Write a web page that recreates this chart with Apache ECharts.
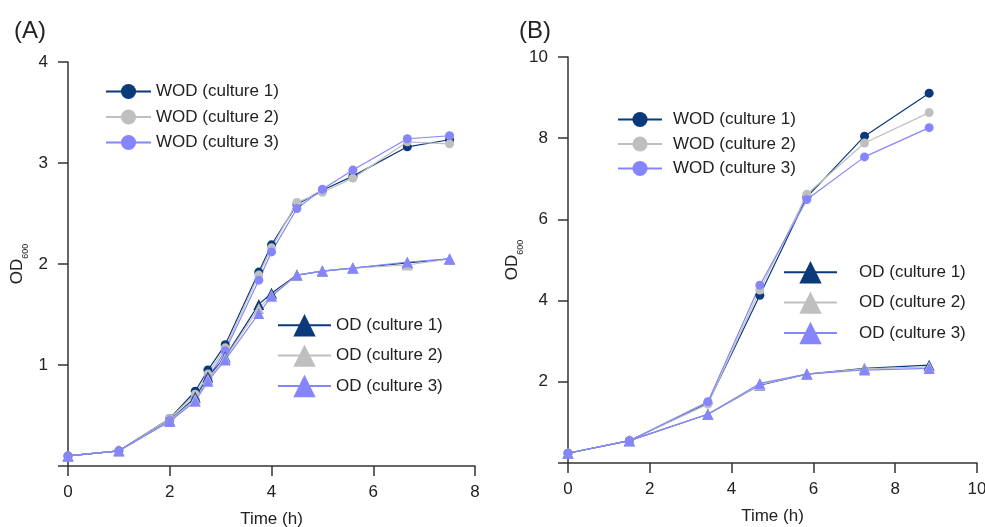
<!DOCTYPE html>
<html>
<head>
<meta charset="utf-8">
<script src="https://cdn.jsdelivr.net/npm/echarts@6/dist/echarts.min.js"></script>
<style>
  html, body { margin: 0; padding: 0; background: #fff; }
  #main { width: 985px; height: 527px; }
</style>
</head>
<body>
<div id="main"></div>
<script>
// panel A time points (h)
const timeA = [0, 1.0, 2.0, 2.5, 2.75, 3.09, 3.75, 4.0, 4.5, 5.0, 5.6, 6.67, 7.5];
const wodA1 = [0.10, 0.15, 0.47, 0.74, 0.95, 1.20, 1.92, 2.19, 2.59, 2.73, 2.87, 3.16, 3.23];
const wodA2 = [0.10, 0.15, 0.47, 0.71, 0.91, 1.17, 1.89, 2.16, 2.61, 2.71, 2.85, 3.21, 3.19];
const wodA3 = [0.10, 0.15, 0.45, 0.66, 0.87, 1.14, 1.84, 2.12, 2.55, 2.74, 2.93, 3.24, 3.27];
const odA1 = [0.10, 0.15, 0.45, 0.68, 0.88, 1.08, 1.60, 1.71, 1.89, 1.93, 1.96, 2.01, 2.05];
const odA2 = [0.10, 0.15, 0.45, 0.66, 0.86, 1.07, 1.56, 1.69, 1.89, 1.93, 1.96, 1.99, 2.05];
const odA3 = [0.10, 0.15, 0.44, 0.64, 0.84, 1.05, 1.51, 1.68, 1.89, 1.93, 1.96, 2.02, 2.05];

// panel B time points (h)
const timeB = [0, 1.5, 3.42, 4.69, 5.84, 7.25, 8.83];
const wodB1 = [0.24, 0.55, 1.47, 4.13, 6.55, 8.05, 9.11];
const wodB2 = [0.24, 0.55, 1.45, 4.26, 6.62, 7.88, 8.63];
const wodB3 = [0.24, 0.55, 1.51, 4.38, 6.49, 7.54, 8.26];
const odB1 = [0.24, 0.55, 1.20, 1.92, 2.19, 2.33, 2.41];
const odB2 = [0.24, 0.55, 1.20, 1.93, 2.19, 2.32, 2.37];
const odB3 = [0.24, 0.55, 1.20, 1.96, 2.19, 2.29, 2.33];

const ticksA = { xMax: 8, xStep: 2, yMax: 4, yStep: 1 };
const ticksB = { xMax: 10, xStep: 2, yMax: 10, yStep: 2 };

const wodNames = ['WOD (culture 1)', 'WOD (culture 2)', 'WOD (culture 3)'];
const odNames = ['OD (culture 1)', 'OD (culture 2)', 'OD (culture 3)'];
const colors = ['#0a3a7a', '#bfbfbf', '#8585ff'];

var font = 'Liberation Sans, Arial, sans-serif';
var txt = '#222';
var fs = 17;

function pairs(xs, ys) {
    return xs.map(function (x, i) { return [x, ys[i]]; });
}

function mkSeries(name, xs, ys, idx, k, sym) {
    return {
        name: name, type: 'line', xAxisIndex: idx, yAxisIndex: idx,
        data: pairs(xs, ys),
        symbol: sym, symbolSize: sym === 'circle' ? 9 : 11,
        itemStyle: { color: colors[k] },
        lineStyle: { color: colors[k], width: 1.2 },
        animation: false
    };
}

function xAxis(idx, t) {
    return {
        type: 'value', gridIndex: idx, min: 0, max: t.xMax, interval: t.xStep,
        name: 'Time (h)', nameLocation: 'middle', nameGap: 45,
        nameTextStyle: { fontSize: fs, color: txt, fontFamily: font },
        axisLine: { lineStyle: { color: '#333', width: 1.5 } },
        axisTick: { length: 10, lineStyle: { color: '#333', width: 1.5 } },
        axisLabel: { fontSize: fs, color: txt, fontFamily: font, margin: 18 },
        splitLine: { show: false }
    };
}

function yAxis(idx, t, gap) {
    return {
        type: 'value', gridIndex: idx, min: 0, max: t.yMax, interval: t.yStep,
        name: '{a|OD}{b|600}', nameLocation: 'middle', nameGap: gap,
        nameTextStyle: {
            rich: {
                a: { fontSize: fs, color: txt, fontFamily: font, lineHeight: 21, verticalAlign: 'top' },
                b: { fontSize: 9, color: txt, fontFamily: font, lineHeight: 21, verticalAlign: 'bottom' }
            }
        },
        axisLine: { show: true, lineStyle: { color: '#333', width: 1.5 } },
        axisTick: { length: 10, lineStyle: { color: '#333', width: 1.5 } },
        axisLabel: {
            fontSize: fs, color: txt, fontFamily: font, margin: 20,
            formatter: function (v) { return v === 0 ? '' : v; }
        },
        splitLine: { show: false }
    };
}

function legend(names, left, top, h, gap, w, pad) {
    return {
        data: names, orient: 'vertical', left: left, top: top, padding: 0,
        itemWidth: w, itemHeight: h, itemGap: gap, selectedMode: false,
        textStyle: { fontSize: fs, color: txt, fontFamily: font, padding: [0, 0, 0, pad] }
    };
}

var myChart = echarts.init(document.getElementById('main'));

var option = {
    backgroundColor: '#fff',
    animation: false,
    title: [
        { text: '(A)', left: 9, top: 14, textStyle: { fontSize: 24, fontWeight: 'normal', color: txt, fontFamily: font } },
        { text: '(B)', left: 514, top: 14, textStyle: { fontSize: 24, fontWeight: 'normal', color: txt, fontFamily: font } }
    ],
    grid: [
        { left: 68, top: 62, width: 407, height: 404, outerBoundsMode: 'none' },
        { left: 568, top: 57, width: 409, height: 406, outerBoundsMode: 'none' }
    ],
    xAxis: [xAxis(0, ticksA), xAxis(1, ticksB)],
    yAxis: [yAxis(0, ticksA, 38), yAxis(1, ticksB, 38)],
    legend: [
        legend(wodNames, 105, 83, 19, 8.5, 45, 0),
        legend(odNames, 277, 314, 28, 8, 53, 0),
        legend(wodNames, 617, 111, 19, 7.5, 44, 6),
        legend(odNames, 783, 261, 28, 8, 53, 17)
    ],
    series: [
        mkSeries(wodNames[0], timeA, wodA1, 0, 0, 'circle'),
        mkSeries(wodNames[1], timeA, wodA2, 0, 1, 'circle'),
        mkSeries(wodNames[2], timeA, wodA3, 0, 2, 'circle'),
        mkSeries(odNames[0], timeA, odA1, 0, 0, 'triangle'),
        mkSeries(odNames[1], timeA, odA2, 0, 1, 'triangle'),
        mkSeries(odNames[2], timeA, odA3, 0, 2, 'triangle'),
        mkSeries(wodNames[0], timeB, wodB1, 1, 0, 'circle'),
        mkSeries(wodNames[1], timeB, wodB2, 1, 1, 'circle'),
        mkSeries(wodNames[2], timeB, wodB3, 1, 2, 'circle'),
        mkSeries(odNames[0], timeB, odB1, 1, 0, 'triangle'),
        mkSeries(odNames[1], timeB, odB2, 1, 1, 'triangle'),
        mkSeries(odNames[2], timeB, odB3, 1, 2, 'triangle')
    ]
};

myChart.setOption(option);
</script>
</body>
</html>
